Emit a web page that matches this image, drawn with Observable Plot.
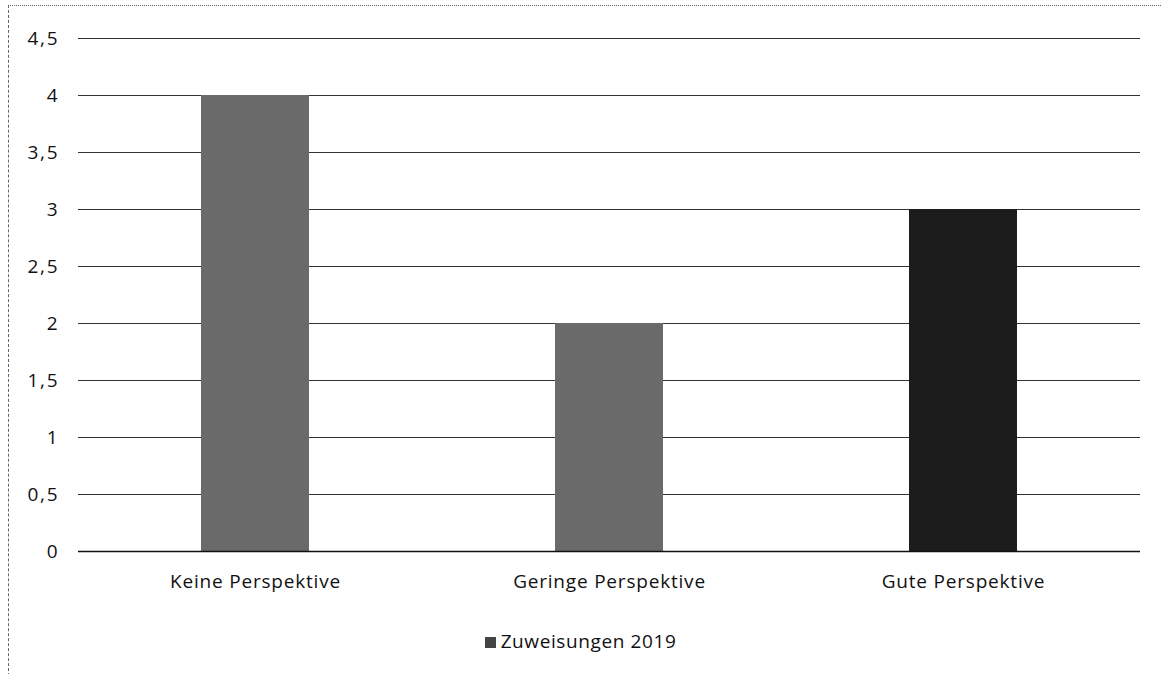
<!DOCTYPE html>
<html>
<head>
<meta charset="utf-8">
<script src="https://cdn.jsdelivr.net/npm/d3@7"></script>
<script src="https://cdn.jsdelivr.net/npm/@observablehq/plot@0.6"></script>
<style>
  html, body { margin: 0; padding: 0; background: #fff; }
  body { width: 1161px; height: 674px; position: relative; overflow: hidden; font-family: "Open Sans", sans-serif; }
  #frame { position: absolute; left: 8px; top: 5px; width: 1160px; height: 700px; border-left: 1px dashed #666; border-top: 1px dotted #666; pointer-events: none; }
  #legend { position: absolute; left: 0; top: 628px; width: 1161px; text-align: center; font-size: 19px; letter-spacing: 0.6px; color: #111; line-height: 26px; }
  #legend .sw { display: inline-block; width: 11px; height: 11px; background: #444; vertical-align: 0px; margin-right: 5px; }
  svg .yax text { font-size: 19px; letter-spacing: 1.8px; }
  svg .xax text { font-size: 19px; letter-spacing: 0.8px; }
</style>
</head>
<body>
<div id="chart"></div>
<div id="legend"><span class="sw"></span>Zuweisungen 2019</div>
<div id="frame"></div>
<script>
const categories = ["Keine Perspektive", "Geringe Perspektive", "Gute Perspektive"];
const values = [4, 2, 3];
const barColors = ["#6a6a6a", "#6a6a6a", "#1c1c1c"];
const yTicks = [0, 0.5, 1, 1.5, 2, 2.5, 3, 3.5, 4, 4.5];

const data = categories.map((c, i) => ({category: c, value: values[i], color: barColors[i]}));
const fmt = v => String(v).replace(".", ",");

const chart = Plot.plot({
  width: 1161,
  height: 610,
  marginTop: 38,
  marginBottom: 59,
  marginLeft: 78,
  marginRight: 21,
  style: {fontFamily: "'Open Sans', sans-serif", color: "#111", background: "#fff"},
  x: {domain: categories, paddingInner: 0.695, paddingOuter: 0.3475, label: null},
  y: {domain: [0, 4.5], ticks: yTicks, label: null, tickFormat: fmt},
  marks: [
    Plot.ruleY(yTicks, {stroke: "#333", strokeWidth: 1.2}),
    Plot.barY(data, {x: "category", y: "value", fill: "color"}),
    Plot.ruleY([0], {stroke: "#111", strokeWidth: 1.5}),
    Plot.axisY({ticks: yTicks, tickSize: 0, tickPadding: 19, tickFormat: fmt, className: "yax"}),
    Plot.axisX({tickSize: 0, tickPadding: 23, className: "xax"})
  ]
});
document.getElementById("chart").appendChild(chart);
</script>
</body>
</html>
